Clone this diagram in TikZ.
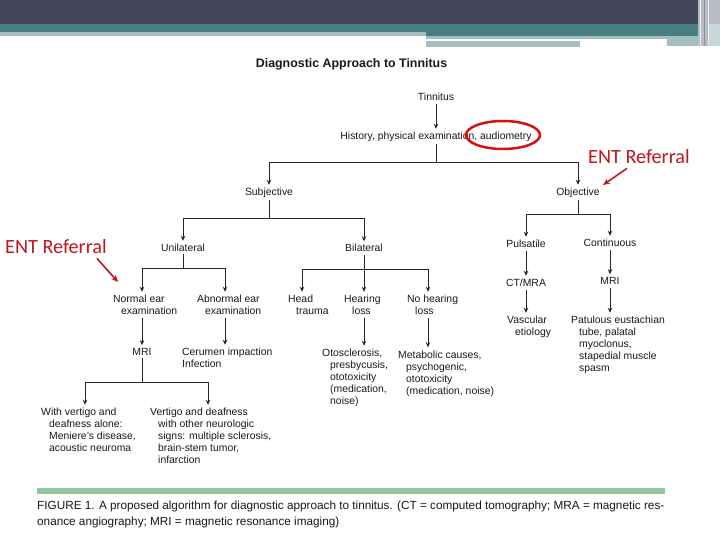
\documentclass[tikz,border=0pt]{standalone}
\usepackage{fontspec}
\setmainfont{Liberation Sans}
\newfontfamily\entfont{Carlito}
\usetikzlibrary{arrows.meta,calc}
\definecolor{hdark}{RGB}{67,70,88}
\definecolor{hteal}{RGB}{70,126,130}
\definecolor{hlight}{RGB}{164,190,193}
\definecolor{hgrey}{RGB}{184,188,196}
\definecolor{capgreen}{RGB}{147,199,160}
\definecolor{entred}{RGB}{192,22,30}
\definecolor{ellred}{RGB}{212,18,18}
\newcommand\ind{\hspace*{8bp}}
\begin{document}
\begin{tikzpicture}[x=1bp,y=-1bp,
  lab/.style={inner xsep=0bp, inner ysep=3bp, text=black!90, font=\fontsize{10.4bp}{12bp}\selectfont},
  ml/.style={lab, align=left, anchor=base west},
  sl/.style={lab, anchor=base},
  arr/.style={draw=black!85, line width=0.8bp, -{Stealth[length=5bp,width=4.5bp]}},
  ln/.style={draw=black!85, line width=0.8bp, line cap=rect},
  ent/.style={text=entred, font=\entfont\fontsize{20.2bp}{23bp}\selectfont, inner sep=0bp, anchor=base west},
  entarr/.style={draw=entred, line width=1.6bp, -{Stealth[length=7bp,width=6bp]}},
  captext/.style={inner sep=0bp, anchor=base west, text=black!90, font=\fontsize{11.75bp}{14bp}\selectfont}
]
\useasboundingbox (0,0) rectangle (720,540);
\fill[white] (0,0) rectangle (720,540);
% header
\fill[hdark] (0,0) rectangle (720,24);
\fill[hteal] (0,24) rectangle (720,32);
\fill[hteal] (426,32) rectangle (700,36);
\fill[hlight] (0,32) rectangle (426,36);
\fill[hlight] (426,36) rectangle (667,39);
\fill[hlight] (667,36) rectangle (700,46);
\fill[hlight] (426,41.5) rectangle (580,47.5);
\fill[hgrey] (698,0) rectangle (720,46);
\fill[hlight!60] (708,24) rectangle (720,46);
\draw[white!80!hgrey, line width=1bp] (700,0) -- (700,46);
\draw[hdark!60, line width=0.8bp] (704,0) -- (704,46);
\draw[white!70!hgrey, line width=1bp] (708,0) -- (708,46);
% title
\node[inner sep=0bp, anchor=base, text=black!90, font=\bfseries\fontsize{12.4bp}{14bp}\selectfont] (title) at (351.5,67.5) {Diagnostic Approach to Tinnitus};
% nodes (multi-line nodes: base = baseline of last line)
\node[sl] (tin) at (436,100.5) {Tinnitus};
\node[sl] (hist) at (436,139.5) {History, physical examination, audiometry};
\node[sl] (subj) at (269,195.5) {Subjective};
\node[sl] (obj) at (578,195.5) {Objective};
\node[sl] (uni) at (183,251.5) {Unilateral};
\node[sl] (bil) at (364,252) {Bilateral};
\node[sl] (puls) at (526,247.5) {Pulsatile};
\node[sl] (cont) at (610,246.5) {Continuous};
\node[sl] (ctmra) at (526,286.5) {CT/MRA};
\node[sl] (mriR) at (610,284.5) {MRI};
\node[sl] (mriL) at (142,355.5) {MRI};
\node[ml] (normal) at (113,314.5) {Normal ear\\\ind examination};
\node[ml] (abn) at (197,314.5) {Abnormal ear\\\ind examination};
\node[ml] (cer) at (182,367.5) {Cerumen impaction\\Infection};
\node[ml] (head) at (288,314.5) {Head\\\ind trauma};
\node[ml] (hear) at (344,314.5) {Hearing\\\ind loss};
\node[ml] (nohear) at (407,314.5) {No hearing\\\ind loss};
\node[ml] (vasc) at (507,335.5) {Vascular\\\ind etiology};
\node[ml] (pat) at (571,371.5) {Patulous eustachian\\\ind tube, palatal\\\ind myoclonus,\\\ind stapedial muscle\\\ind spasm};
\node[ml] (oto) at (322,404.5) {Otosclerosis,\\\ind presbycusis,\\\ind ototoxicity\\\ind (medication,\\\ind noise)};
\node[ml] (met) at (398,394) {Metabolic causes,\\\ind psychogenic,\\\ind ototoxicity\\\ind (medication, noise)};
\node[ml] (withv) at (41,451.5) {With vertigo and\\\ind deafness alone:\\\ind Meniere’s disease,\\\ind acoustic neuroma};
\node[ml] (vert) at (150,463.5) {Vertigo and deafness\\\ind with other neurologic\\\ind signs: multiple sclerosis,\\\ind brain-stem tumor,\\\ind infarction};
% helper coordinates
\coordinate (b1) at (0,162);
\coordinate (b2) at (0,218);
\coordinate (b3) at (0,214);
\coordinate (b4) at (0,268);
\coordinate (b5) at (0,382);
\coordinate (b6) at (0,269);
\coordinate (xa) at (225,0);
\coordinate (xw) at (85,0);
\coordinate (xv) at (208,0);
\coordinate (xh) at (302,0);
\coordinate (xn) at (428,0);
% connectors
\draw[arr] (tin.south) -- (hist.north);
\draw[ln] (hist.south) -- (hist.south |- b1);
\draw[ln] (b1 -| subj) -- (b1 -| obj);
\draw[arr] (b1 -| subj) -- (subj.north);
\draw[arr] (b1 -| obj) -- (obj.north);
\draw[ln] (subj.south) -- (subj.south |- b2);
\draw[ln] (b2 -| uni) -- (b2 -| bil);
\draw[arr] (b2 -| uni) -- (uni.north);
\draw[arr] (b2 -| bil) -- (bil.north);
\draw[ln] (obj.south) -- (obj.south |- b3);
\draw[ln] (b3 -| puls) -- (b3 -| cont);
\draw[arr] (b3 -| puls) -- (puls.north);
\draw[arr] (b3 -| cont) -- (cont.north);
\draw[arr] (puls.south) -- (ctmra.north);
\draw[arr] (ctmra.south) -- (vasc.north -| ctmra);
\draw[arr] (cont.south) -- (mriR.north);
\draw[arr] (mriR.south) -- (pat.north -| mriR);
\draw[ln] (uni.south) -- (uni.south |- b4);
\draw[ln] (b4 -| mriL) -- (b4 -| xa);
\draw[arr] (b4 -| mriL) -- (normal.north -| mriL);
\draw[arr] (b4 -| xa) -- (abn.north -| xa);
\draw[arr] (normal.south -| mriL) -- (mriL.north);
\draw[arr] (abn.south -| xa) -- (cer.north -| xa);
\draw[ln] (mriL.south) -- (mriL.south |- b5);
\draw[ln] (b5 -| xw) -- (b5 -| xv);
\draw[arr] (b5 -| xw) -- (withv.north -| xw);
\draw[arr] (b5 -| xv) -- (vert.north -| xv);
\draw[ln] (bil.south) -- (bil.south |- b6);
\draw[ln] (b6 -| xh) -- (b6 -| xn);
\draw[arr] (b6 -| xh) -- (head.north -| xh);
\draw[arr] (b6 -| bil) -- (hear.north -| bil);
\draw[arr] (b6 -| xn) -- (nohear.north -| xn);
\draw[arr] (hear.south -| bil) -- (oto.north -| bil);
\draw[arr] (nohear.south -| xn) -- (met.north -| xn);
% annotations
\draw[draw=ellred, line width=2.5bp] (503,135) ellipse [x radius=37, y radius=14];
\node[ent] (ent1) at (588,164) {ENT Referral};
\node[ent] (ent2) at (5,254) {ENT Referral};
\coordinate (e1) at (603,185);
\coordinate (e2) at (118,282);
\draw[entarr] ($(ent1.south)+(-12,4)$) -- (e1);
\draw[entarr] ($(ent2.south)+(41,4)$) -- (e2);
% caption
\fill[capgreen] (37,488) rectangle (665,494);
\node[captext] (cap1) at (37,509) {FIGURE 1. A proposed algorithm for diagnostic approach to tinnitus. (CT = computed tomography; MRA = magnetic res-};
\node[captext] (cap2) at (37,525) {onance angiography; MRI = magnetic resonance imaging)};
\end{tikzpicture}
\end{document}
